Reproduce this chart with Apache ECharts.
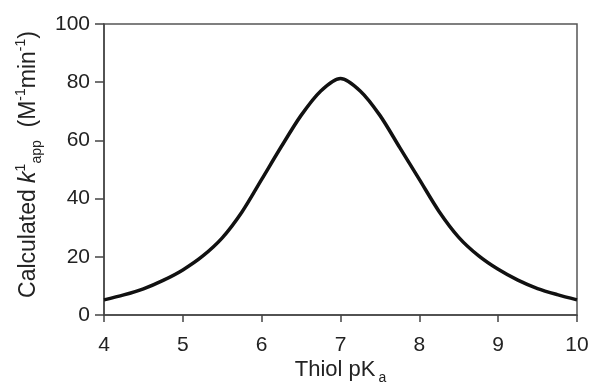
<!DOCTYPE html>
<html><head><meta charset="utf-8">
<script src="https://cdn.jsdelivr.net/npm/echarts@6/dist/echarts.min.js"></script>
<style>html,body{margin:0;padding:0;background:#fff}#c{width:594px;height:389px}</style>
</head><body><div id="c"></div>
<script>
const pKa = [4.0,4.25,4.5,4.75,5.0,5.25,5.5,5.75,6.0,6.25,6.5,6.75,7.0,7.25,7.5,7.75,8.0,8.25,8.5,8.75,9.0,9.25,9.5,9.75,10.0];
const kapp = [5.2,6.9,9.0,11.9,15.5,20.2,26.5,35.4,46.6,57.9,68.6,77.0,81.3,77.0,68.6,57.6,46.6,35.6,26.7,20.4,15.7,12.0,9.1,7.0,5.2];
const xTicks = [4,5,6,7,8,9,10];
const yTicks = [0,20,40,60,80,100];

const chart = echarts.init(document.getElementById('c'), null, {renderer:'canvas'});
const font = 'Liberation Sans, Arial, sans-serif';
const txt = '#222';
chart.setOption({
  animation:false,
  grid:{left:104,right:17,top:24,bottom:74,containLabel:false,outerBoundsMode:'none',
    show:true,borderColor:'#555',borderWidth:1.5,backgroundColor:'transparent'},
  xAxis:{
    type:'value',min:4,max:10,interval:1,
    axisLine:{show:true,onZero:false,lineStyle:{color:'#444',width:1.5}},
    axisTick:{show:true,length:7,lineStyle:{color:'#444',width:1.5}},
    splitLine:{show:false},
    axisLabel:{color:txt,fontFamily:font,fontSize:21,margin:20,
      formatter:v=>xTicks.includes(v)?String(v):''},
    name:'{m|Thiol pK}{sub|a}',nameLocation:'middle',nameGap:44,nameMoveOverlap:false,
    nameTextStyle:{rich:{
      m:{fontFamily:font,fontSize:22,color:txt,lineHeight:26,verticalAlign:'top'},
      sub:{fontFamily:font,fontSize:14,color:txt,lineHeight:14,padding:[27,0,0,3],verticalAlign:'bottom'}
    }}
  },
  yAxis:{
    type:'value',min:0,max:100,interval:20,
    axisLine:{show:true,lineStyle:{color:'#444',width:1.5}},
    axisTick:{show:true,length:9,lineStyle:{color:'#444',width:1.5}},
    splitLine:{show:false},
    axisLabel:{color:txt,fontFamily:font,fontSize:21,margin:14,
      formatter:v=>yTicks.includes(v)?String(v):''},
    name:'{m|Calculated }{i|k}{sup|1}{sub|app}{m|  (M}{sup|-1}{m|min}{sup|-1}{m|)}',
    nameLocation:'middle',nameGap:60,nameRotate:90,nameMoveOverlap:false,
    nameTextStyle:{padding:[0,0,0,10],rich:{
      m:{fontFamily:font,fontSize:23,color:txt,lineHeight:30},
      i:{fontFamily:font,fontSize:23,fontStyle:'italic',color:txt,lineHeight:30},
      sup:{fontFamily:font,fontSize:14,color:txt,lineHeight:14,verticalAlign:'top'},
      sub:{fontFamily:font,fontSize:14,color:txt,lineHeight:14,verticalAlign:'bottom'}
    }}
  },
  series:[{
    type:'line',data:pKa.map((x,i)=>[x,kapp[i]]),smooth:0.3,showSymbol:false,
    lineStyle:{color:'#111',width:3.5},clip:true
  }]
});
</script></body></html>
